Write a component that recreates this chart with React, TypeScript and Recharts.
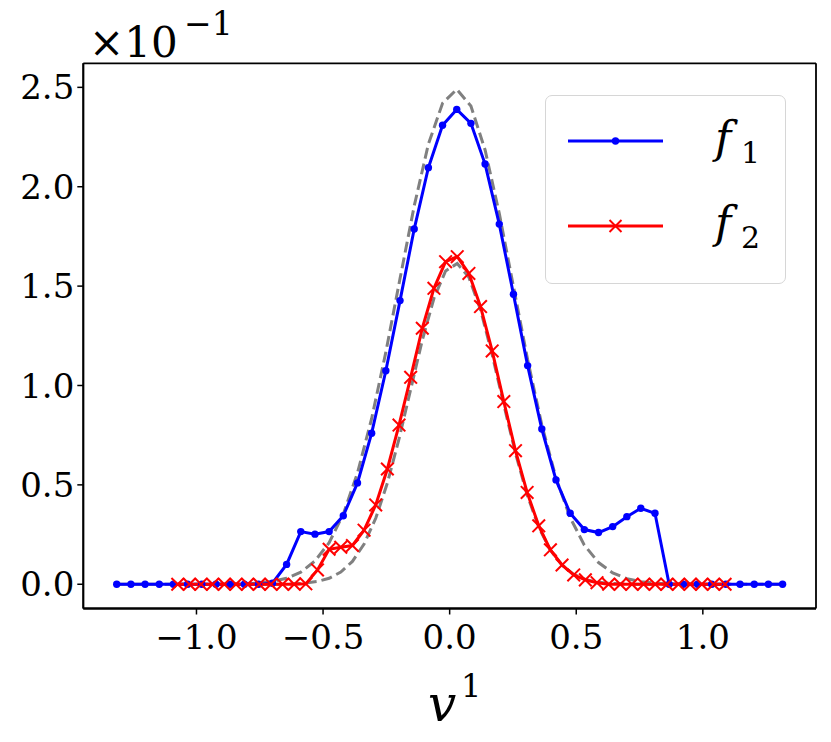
import React from 'react';
import { LineChart, Line, XAxis, YAxis, Legend, Label, CartesianGrid } from 'recharts';

// ---- data (values in units of 10^-1) ----
const f1V = [
  -1.315, -1.259, -1.203, -1.147, -1.091, -1.035, -0.979, -0.923, -0.867, -0.811,
  -0.755, -0.700, -0.644, -0.588, -0.532, -0.476, -0.420, -0.364, -0.308, -0.252,
  -0.196, -0.140, -0.084, -0.028, 0.028, 0.084, 0.140, 0.196, 0.252, 0.308,
  0.364, 0.420, 0.476, 0.532, 0.588, 0.644, 0.700, 0.755, 0.811, 0.867,
  0.923, 0.979, 1.035, 1.091, 1.147, 1.203, 1.259, 1.315,
];
const f1Values = [
  0, 0, 0, 0, 0, 0, 0, 0, 0, 0,
  0, 0.005, 0.1, 0.265, 0.252, 0.265, 0.345, 0.51, 0.76, 1.074,
  1.427, 1.787, 2.096, 2.309, 2.389, 2.319, 2.114, 1.812, 1.459, 1.1,
  0.781, 0.525, 0.357, 0.275, 0.26, 0.29, 0.34, 0.382, 0.357, 0,
  0, 0, 0, 0, 0, 0, 0, 0,
];
const f1Ref = [
  0, 0, 0, 0, 0, 0, 0, 0, 0, 0,
  0.006, 0.014, 0.03, 0.061, 0.117, 0.209, 0.353, 0.56, 0.834, 1.168,
  1.538, 1.903, 2.214, 2.42, 2.49, 2.406, 2.185, 1.866, 1.498, 1.13,
  0.802, 0.535, 0.335, 0.197, 0.109, 0.057, 0.028, 0.013, 0.005, 0.002,
  0, 0, 0, 0, 0, 0, 0, 0,
];

const f2V = [
  -1.074, -1.028, -0.982, -0.936, -0.890, -0.844, -0.798, -0.752, -0.706, -0.660,
  -0.614, -0.568, -0.522, -0.476, -0.430, -0.384, -0.338, -0.292, -0.246, -0.200,
  -0.154, -0.108, -0.062, -0.016, 0.030, 0.076, 0.122, 0.168, 0.214, 0.260,
  0.306, 0.352, 0.398, 0.444, 0.490, 0.536, 0.582, 0.628, 0.674, 0.720,
  0.766, 0.812, 0.858, 0.904, 0.950, 0.996, 1.042, 1.088,
];
const f2Values = [
  0, 0, 0, 0, 0, 0, 0, 0, 0, 0,
  0, 0.002, 0.072, 0.176, 0.186, 0.195, 0.272, 0.399, 0.58, 0.801,
  1.041, 1.288, 1.489, 1.623, 1.648, 1.564, 1.397, 1.174, 0.919, 0.672,
  0.462, 0.294, 0.173, 0.097, 0.047, 0.022, 0.008, 0, 0, 0,
  0, 0, 0, 0, 0, 0, 0, 0,
];
const f2Ref = [
  0, 0, 0, 0, 0, 0, 0, 0, 0, 0,
  0.002, 0.006, 0.014, 0.03, 0.061, 0.115, 0.202, 0.332, 0.509, 0.731,
  0.98, 1.228, 1.439, 1.576, 1.614, 1.544, 1.381, 1.155, 0.903, 0.659,
  0.45, 0.287, 0.171, 0.096, 0.05, 0.024, 0.011, 0.005, 0.002, 0,
  0, 0, 0, 0, 0, 0, 0, 0,
];

const xTicks = [-1.0, -0.5, 0.0, 0.5, 1.0];
const yTicks = [0.0, 0.5, 1.0, 1.5, 2.0, 2.5];

const zip = (xs: number[], ys: number[]) => xs.map((v, i) => ({ v, y: ys[i] }));
const f1Data = zip(f1V, f1Values);
const f1RefData = zip(f1V, f1Ref);
const f2Data = zip(f2V, f2Values);
const f2RefData = zip(f2V, f2Ref);

// ---- styles ----
const BLUE = '#0000ff';
const RED = '#ff0000';
const GRAY = '#808080';
const FONT = '"DejaVu Serif", serif';

const fmt = (t: number) => {
  const s = Math.abs(t).toFixed(1);
  return t < 0 ? '\u2212' + s : s;
};

const BlueDot = (props: any) => {
  const { cx, cy, index } = props;
  if (cx == null || cy == null) return null;
  return <circle key={`b-${index}`} cx={cx} cy={cy} r={3.7} fill={BLUE} stroke="none" />;
};

const RedCross = (props: any) => {
  const { cx, cy, index } = props;
  if (cx == null || cy == null) return null;
  const s = 6.3;
  return (
    <g key={`r-${index}`} stroke={RED} strokeWidth={2}>
      <line x1={cx - s} y1={cy - s} x2={cx + s} y2={cy + s} />
      <line x1={cx - s} y1={cy + s} x2={cx + s} y2={cy - s} />
    </g>
  );
};

const renderLegend = () => (
  <div
    style={{
      position: 'relative',
      width: 241,
      height: 189,
      boxSizing: 'border-box',
      border: '1.5px solid #d6d6d6',
      borderRadius: 7,
      background: 'rgba(255,255,255,0.85)',
    }}
  >
    <svg width={241} height={189} style={{ position: 'absolute', left: -1.5, top: -1.5 }}>
      <line x1={23} x2={118} y1={46} y2={46} stroke={BLUE} strokeWidth={3} />
      <circle cx={70.5} cy={46} r={3.7} fill={BLUE} />
      <text fontFamily={FONT} fill="#000">
        <tspan x={170} y={58} fontStyle="italic" fontSize={44}>f</tspan>
        <tspan x={196} y={68} fontSize={30}>1</tspan>
      </text>
      <line x1={23} x2={118} y1={131} y2={131} stroke={RED} strokeWidth={3} />
      <g stroke={RED} strokeWidth={2}>
        <line x1={64.5} y1={125} x2={76.5} y2={137} />
        <line x1={64.5} y1={137} x2={76.5} y2={125} />
      </g>
      <text fontFamily={FONT} fill="#000">
        <tspan x={170} y={143} fontStyle="italic" fontSize={44}>f</tspan>
        <tspan x={196} y={153} fontSize={30}>2</tspan>
      </text>
    </svg>
  </div>
);

export default function App() {
  return (
    <div style={{ position: 'absolute', left: 0, top: 0, width: 831, height: 742, background: '#fff' }}>
      <LineChart
        width={831}
        height={742}
        margin={{ top: 63.3, right: 15, bottom: 73.5, left: 13.3 }}
      >
        <CartesianGrid
          stroke="#000"
          strokeWidth={1.8}
          fill="none"
          horizontalCoordinatesGenerator={({ offset }: any) => [offset.top, offset.top + offset.height]}
          verticalCoordinatesGenerator={({ offset }: any) => [offset.left, offset.left + offset.width]}
        />
        <XAxis
          dataKey="v"
          type="number"
          domain={[-1.447, 1.447]}
          allowDataOverflow
          ticks={xTicks}
          tickFormatter={fmt}
          height={60}
          tickSize={6}
          tickMargin={10}
          axisLine={{ stroke: '#000', strokeWidth: 1.8 }}
          tickLine={{ stroke: '#000', strokeWidth: 1.5 }}
          tick={{ fill: '#000', fontSize: 34, fontFamily: FONT }}
        >
          <Label
            content={() => (
              <text fontFamily={FONT} fill="#000">
                <tspan x={428} y={721} fontStyle="italic" fontSize={50}>v</tspan>
                <tspan x={461} y={697} fontSize={32}>1</tspan>
              </text>
            )}
          />
        </XAxis>
        <YAxis
          dataKey="y"
          type="number"
          domain={[-0.122, 2.621]}
          allowDataOverflow
          ticks={yTicks}
          tickFormatter={fmt}
          width={70}
          tickSize={6}
          tickMargin={3}
          axisLine={{ stroke: '#000', strokeWidth: 1.8 }}
          tickLine={{ stroke: '#000', strokeWidth: 1.5 }}
          tick={{ fill: '#000', fontSize: 34, fontFamily: FONT }}
        >
          <Label
            content={() => (
              <text fontFamily={FONT} fill="#000">
                <tspan x={89} y={57} fontSize={42}>{'\u00d710'}</tspan>
                <tspan x={184} y={35} fontSize={33}>{'\u22121'}</tspan>
              </text>
            )}
          />
        </YAxis>
        <Legend
          layout="horizontal"
          verticalAlign="middle"
          align="center"
          content={renderLegend}
          wrapperStyle={{ position: 'absolute', left: 545, top: 95, width: 241, height: 189, margin: 0 }}
        />
        <Line
          data={f1RefData}
          dataKey="y"
          type="linear"
          stroke={GRAY}
          strokeWidth={3}
          strokeDasharray="11 5"
          dot={false}
          activeDot={false}
          isAnimationActive={false}
          legendType="none"
          name="ref1"
        />
        <Line
          data={f2RefData}
          dataKey="y"
          type="linear"
          stroke={GRAY}
          strokeWidth={3}
          strokeDasharray="11 5"
          dot={false}
          activeDot={false}
          isAnimationActive={false}
          legendType="none"
          name="ref2"
        />
        <Line
          data={f1Data}
          dataKey="y"
          type="linear"
          stroke={BLUE}
          strokeWidth={3}
          dot={BlueDot}
          activeDot={false}
          isAnimationActive={false}
          name="f1"
        />
        <Line
          data={f2Data}
          dataKey="y"
          type="linear"
          stroke={RED}
          strokeWidth={3}
          dot={RedCross}
          activeDot={false}
          isAnimationActive={false}
          name="f2"
        />
      </LineChart>
    </div>
  );
}
